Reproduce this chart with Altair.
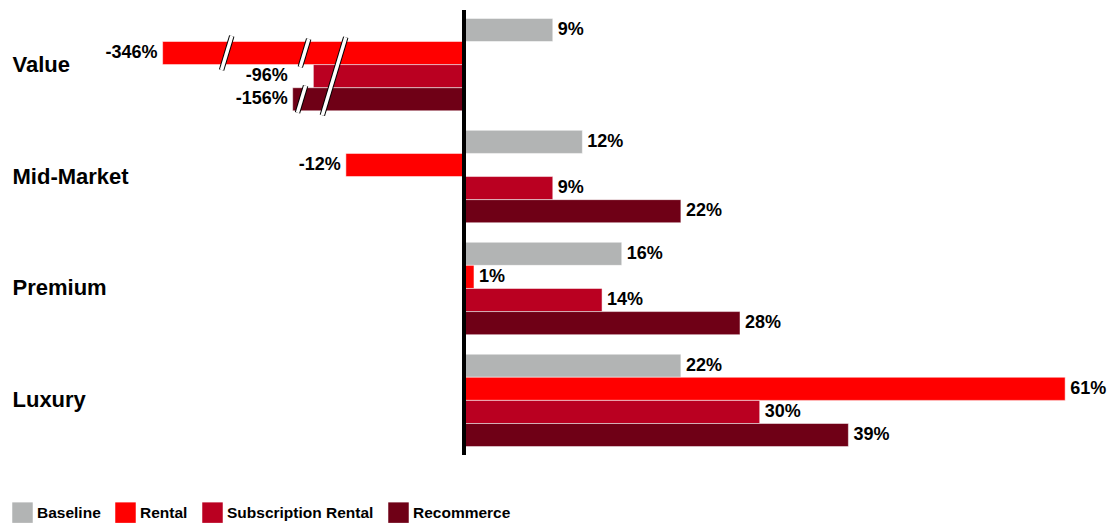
import altair as alt
import pandas as pd

categories = ["Value", "Mid-Market", "Premium", "Luxury"]
series = ["Baseline", "Rental", "Subscription Rental", "Recommerce"]
colors = ["#B2B4B4", "#FF0000", "#BA0021", "#6F0016"]

baseline = [9, 12, 16, 22]
rental = [-346, -12, 1, 61]
subscription = [-96, 9, 14, 30]
recommerce = [-156, 22, 28, 39]

# off-scale bars (axis broken): category, series, drawn length, label anchor
broken_category = ["Value", "Value", "Value"]
broken_series = ["Rental", "Subscription Rental", "Recommerce"]
broken_drawn = [-30.6, -15.3, -17.4]
broken_label_at = [-30.6, -17.4, -17.4]

# axis-break markers
break_category = ["Value", "Value", "Value", "Value"]
break_series = ["Rental", "Rental", "Recommerce", "Subscription Rental"]
break_x = [-24.1, -16.2, -16.5, -13.2]
break_len = [34, 28, 27, 78]

rows = []
for s, vals in zip(series, [baseline, rental, subscription, recommerce]):
    for c, v in zip(categories, vals):
        shown, lab = v, v
        for bc, bs, bd, bl in zip(broken_category, broken_series, broken_drawn, broken_label_at):
            if bc == c and bs == s:
                shown, lab = bd, bl
        rows.append({"category": c, "series": s, "value": v, "shown": shown,
                     "lx": lab, "label": f"{v}%"})
df = pd.DataFrame(rows)

brk = pd.DataFrame({"category": break_category, "series": break_series,
                    "bx": break_x, "bsize": [l * l for l in break_len]})

FONT = "Liberation Sans"

y = alt.Y("category:N", sort=categories,
          scale=alt.Scale(domain=categories, paddingInner=0.174, paddingOuter=0.075),
          axis=alt.Axis(title=None, domain=False, ticks=False, labelAlign="left",
                        labelBaseline="middle", labelPadding=58, labelFontSize=22,
                        labelFont=FONT, labelFontWeight="bold", labelColor="black"))
yoff = alt.YOffset("series:N", sort=series,
                   scale=alt.Scale(domain=series, paddingInner=0, paddingOuter=0))
xscale = alt.Scale(domain=[-40, 62], nice=False, zero=False)

bars = alt.Chart(df).mark_bar(stroke="white", strokeWidth=0.5).encode(
    x=alt.X("shown:Q", scale=xscale, axis=None),
    x2=alt.datum(0),
    y=y,
    yOffset=yoff,
    color=alt.Color("series:N", sort=series,
                    scale=alt.Scale(domain=series, range=colors),
                    legend=alt.Legend(title=None, orient="none", legendX=-58, legendY=492,
                                      direction="horizontal", symbolType="square",
                                      symbolSize=420, symbolStrokeWidth=0,
                                      labelFont=FONT, labelLimit=0,
                                      labelFontSize=15.5, labelFontWeight="bold",
                                      labelColor="black", columnPadding=14,
                                      labelOffset=4, padding=0)),
)

brk_black = alt.Chart(brk).mark_point(shape="M-0.3,1L0.3,-1", filled=False, stroke="black",
                                      strokeWidth=5.5, opacity=1, strokeCap="butt").encode(
    x=alt.X("bx:Q", scale=xscale), y=y, yOffset=yoff,
    size=alt.Size("bsize:Q", scale=None))
brk_white = alt.Chart(brk).mark_point(shape="M-0.3,1L0.3,-1", filled=False, stroke="white",
                                      strokeWidth=3.5, opacity=1, strokeCap="butt").encode(
    x=alt.X("bx:Q", scale=xscale), y=y, yOffset=yoff,
    size=alt.Size("bsize:Q", scale=None))

zero = alt.Chart(df).mark_rule(color="black", strokeWidth=3).encode(x=alt.datum(0))

pos_lab = alt.Chart(df).transform_filter("datum.value >= 0").mark_text(
    align="left", baseline="middle", dx=5, font=FONT, fontSize=18, fontWeight="bold",
    color="black").encode(x=alt.X("lx:Q", scale=xscale), y=y, yOffset=yoff, text="label:N")
neg_lab = alt.Chart(df).transform_filter("datum.value < 0").mark_text(
    align="right", baseline="middle", dx=-5, font=FONT, fontSize=18, fontWeight="bold",
    color="black").encode(x=alt.X("lx:Q", scale=xscale), y=y, yOffset=yoff, text="label:N")

chart = alt.layer(bars, brk_black, brk_white, zero, pos_lab, neg_lab).properties(
    width=1005, height=445,
    padding={"left": 4, "top": 0, "right": 0, "bottom": 0},
).configure_view(stroke=None)

chart.save("out.html", embed_options={"renderer": "svg", "actions": False})
